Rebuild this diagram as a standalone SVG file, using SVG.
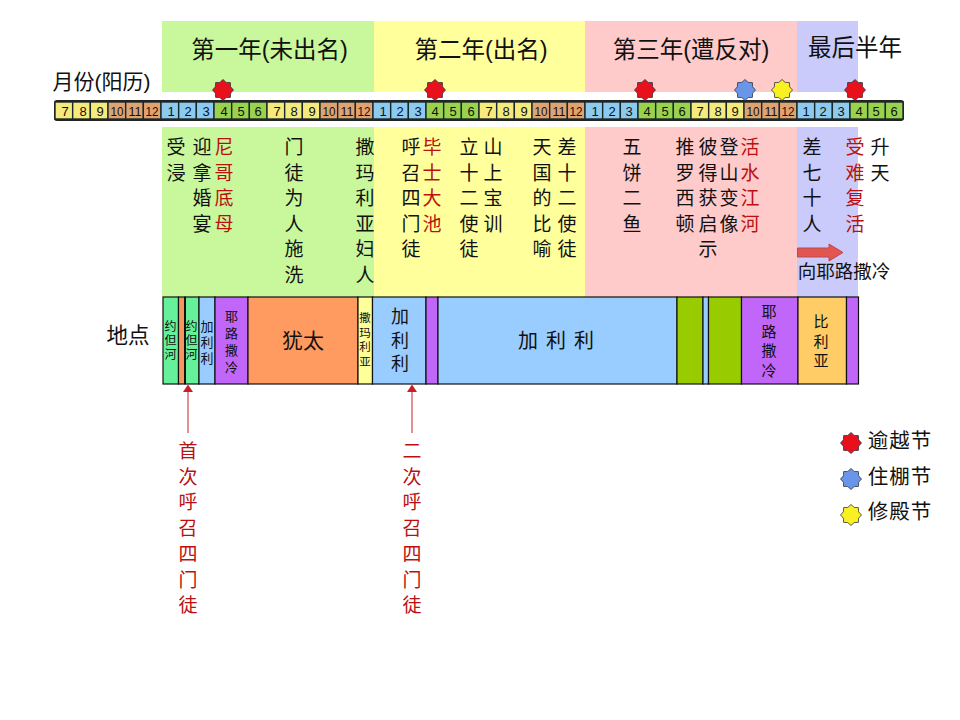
<svg xmlns="http://www.w3.org/2000/svg" width="960" height="720" viewBox="0 0 960 720">
<style>
text{font-family:"Liberation Sans","Noto Sans CJK SC",sans-serif;fill:#111;text-anchor:middle}
.t{font-size:23.5px}
.c{font-size:19px}
.r{fill:#bb1010}
.m{font-size:13px}
.loc{stroke:#111;stroke-width:1.2}
.cell{stroke:#1a2a2a;stroke-width:1.4}
.b{fill:#8ccaf0}.g{fill:#9ad24e}.y{fill:#f7ea7c}.o{fill:#e0a26e}
.star{stroke:#334;stroke-width:.8}
</style>
<defs>
<polygon id="s" points="0,-10.5 3.2,-7.6 7.4,-7.4 7.6,-3.2 10.5,0 7.6,3.2 7.4,7.4 3.2,7.6 0,10.5 -3.2,7.6 -7.4,7.4 -7.6,3.2 -10.5,0 -7.6,-3.2 -7.4,-7.4 -3.2,-7.6"/>
</defs>
<rect width="960" height="720" fill="#fff"/>
<g id="year-bands">
<rect x="162" y="21" width="212" height="71" fill="#c8f79c"/><rect x="374" y="21" width="211" height="71" fill="#ffff9c"/><rect x="585" y="21" width="212" height="71" fill="#ffcaca"/><rect x="797" y="21" width="61" height="71" fill="#cacbfb"/>
<rect x="162" y="127" width="212" height="170" fill="#c8f79c"/><rect x="374" y="127" width="211" height="170" fill="#ffff9c"/><rect x="585" y="127" width="212" height="170" fill="#ffcaca"/><rect x="797" y="127" width="61" height="170" fill="#cacbfb"/>
</g>
<g id="year-titles">
<text class="t" x="269.500" y="58">第一年(未出名)</text>
<text class="t" x="481" y="58">第二年(出名)</text>
<text class="t" x="691" y="58">第三年(遭反对)</text>
<text class="t" x="855" y="56">最后半年</text>
<text x="101.500" y="89" font-size="21">月份(阳历)</text>
</g>
<g id="timeline">
<rect x="55" y="101" width="848" height="19" rx="2" fill="#333" stroke="#222" stroke-width="2"/>
<rect class="cell y" x="55" y="102" width="17.67" height="17"/><rect class="cell y" x="72.67" y="102" width="17.67" height="17"/><rect class="cell y" x="90.33" y="102" width="17.67" height="17"/><rect class="cell o" x="108" y="102" width="17.67" height="17"/><rect class="cell o" x="125.67" y="102" width="17.67" height="17"/><rect class="cell o" x="143.33" y="102" width="17.67" height="17"/>
<rect class="cell b" x="161" y="102" width="17.67" height="17"/><rect class="cell b" x="178.67" y="102" width="17.67" height="17"/><rect class="cell b" x="196.33" y="102" width="17.67" height="17"/><rect class="cell g" x="214" y="102" width="17.67" height="17"/><rect class="cell g" x="231.67" y="102" width="17.67" height="17"/><rect class="cell g" x="249.33" y="102" width="17.67" height="17"/><rect class="cell y" x="267" y="102" width="17.67" height="17"/><rect class="cell y" x="284.67" y="102" width="17.67" height="17"/><rect class="cell y" x="302.33" y="102" width="17.67" height="17"/><rect class="cell o" x="320" y="102" width="17.67" height="17"/><rect class="cell o" x="337.67" y="102" width="17.67" height="17"/><rect class="cell o" x="355.33" y="102" width="17.67" height="17"/>
<rect class="cell b" x="373" y="102" width="17.67" height="17"/><rect class="cell b" x="390.67" y="102" width="17.67" height="17"/><rect class="cell b" x="408.33" y="102" width="17.67" height="17"/><rect class="cell g" x="426" y="102" width="17.67" height="17"/><rect class="cell g" x="443.67" y="102" width="17.67" height="17"/><rect class="cell g" x="461.33" y="102" width="17.67" height="17"/><rect class="cell y" x="479" y="102" width="17.67" height="17"/><rect class="cell y" x="496.67" y="102" width="17.67" height="17"/><rect class="cell y" x="514.33" y="102" width="17.67" height="17"/><rect class="cell o" x="532" y="102" width="17.67" height="17"/><rect class="cell o" x="549.67" y="102" width="17.67" height="17"/><rect class="cell o" x="567.33" y="102" width="17.67" height="17"/>
<rect class="cell b" x="585" y="102" width="17.67" height="17"/><rect class="cell b" x="602.67" y="102" width="17.67" height="17"/><rect class="cell b" x="620.33" y="102" width="17.67" height="17"/><rect class="cell g" x="638" y="102" width="17.67" height="17"/><rect class="cell g" x="655.67" y="102" width="17.67" height="17"/><rect class="cell g" x="673.33" y="102" width="17.67" height="17"/><rect class="cell y" x="691" y="102" width="17.67" height="17"/><rect class="cell y" x="708.67" y="102" width="17.67" height="17"/><rect class="cell y" x="726.33" y="102" width="17.67" height="17"/><rect class="cell o" x="744" y="102" width="17.67" height="17"/><rect class="cell o" x="761.67" y="102" width="17.67" height="17"/><rect class="cell o" x="779.33" y="102" width="17.67" height="17"/>
<rect class="cell b" x="797" y="102" width="17.67" height="17"/><rect class="cell b" x="814.67" y="102" width="17.67" height="17"/><rect class="cell b" x="832.33" y="102" width="17.67" height="17"/><rect class="cell g" x="850" y="102" width="17.67" height="17"/><rect class="cell g" x="867.67" y="102" width="17.67" height="17"/><rect class="cell g" x="885.33" y="102" width="17.67" height="17"/>
<g class="m">
<text x="65" y="115.500">7</text><text x="83" y="115.500">8</text><text x="100" y="115.500">9</text><text x="117" y="115.500" textLength="13" lengthAdjust="spacingAndGlyphs">10</text><text x="135" y="115.500" textLength="13" lengthAdjust="spacingAndGlyphs">11</text><text x="152" y="115.500" textLength="13" lengthAdjust="spacingAndGlyphs">12</text>
<text x="171" y="115.500">1</text><text x="188" y="115.500">2</text><text x="206" y="115.500">3</text><text x="224" y="115.500">4</text><text x="241" y="115.500">5</text><text x="258" y="115.500">6</text><text x="277" y="115.500">7</text><text x="294" y="115.500">8</text><text x="312" y="115.500">9</text><text x="329" y="115.500" textLength="13" lengthAdjust="spacingAndGlyphs">10</text><text x="347" y="115.500" textLength="13" lengthAdjust="spacingAndGlyphs">11</text><text x="364" y="115.500" textLength="13" lengthAdjust="spacingAndGlyphs">12</text>
<text x="383" y="115.500">1</text><text x="400" y="115.500">2</text><text x="418" y="115.500">3</text><text x="435" y="115.500">4</text><text x="453" y="115.500">5</text><text x="471" y="115.500">6</text><text x="489" y="115.500">7</text><text x="506" y="115.500">8</text><text x="524" y="115.500">9</text><text x="541" y="115.500" textLength="13" lengthAdjust="spacingAndGlyphs">10</text><text x="559" y="115.500" textLength="13" lengthAdjust="spacingAndGlyphs">11</text><text x="576" y="115.500" textLength="13" lengthAdjust="spacingAndGlyphs">12</text>
<text x="595" y="115.500">1</text><text x="612" y="115.500">2</text><text x="629" y="115.500">3</text><text x="647" y="115.500">4</text><text x="665" y="115.500">5</text><text x="682" y="115.500">6</text><text x="700" y="115.500">7</text><text x="718" y="115.500">8</text><text x="735" y="115.500">9</text><text x="753" y="115.500" textLength="13" lengthAdjust="spacingAndGlyphs">10</text><text x="771" y="115.500" textLength="13" lengthAdjust="spacingAndGlyphs">11</text><text x="788" y="115.500" textLength="13" lengthAdjust="spacingAndGlyphs">12</text>
<text x="806" y="115.500">1</text><text x="823" y="115.500">2</text><text x="841" y="115.500">3</text><text x="859" y="115.500">4</text><text x="876" y="115.500">5</text><text x="894" y="115.500">6</text>
</g>
</g>
<g id="feast-markers" class="star">
<use href="#s" x="223" y="90" fill="#e8101a"/><use href="#s" x="435" y="90" fill="#e8101a"/><use href="#s" x="645" y="90" fill="#e8101a"/><use href="#s" x="745" y="90" fill="#6a96ea"/><use href="#s" x="782" y="90" fill="#f8f020"/><use href="#s" x="855" y="90" fill="#e8101a"/>
</g>
<g id="events">
<text class="c"><tspan x="176" y="154">受</tspan><tspan x="176" dy="25.5">浸</tspan></text>
<text class="c"><tspan x="202" y="154">迎</tspan><tspan x="202" dy="25.5">拿</tspan><tspan x="202" dy="25.5">婚</tspan><tspan x="202" dy="25.5">宴</tspan></text>
<text class="c r"><tspan x="224" y="154">尼</tspan><tspan x="224" dy="25.5">哥</tspan><tspan x="224" dy="25.5">底</tspan><tspan x="224" dy="25.5">母</tspan></text>
<text class="c"><tspan x="294" y="154">门</tspan><tspan x="294" dy="25.5">徒</tspan><tspan x="294" dy="25.5">为</tspan><tspan x="294" dy="25.5">人</tspan><tspan x="294" dy="25.5">施</tspan><tspan x="294" dy="25.5">洗</tspan></text>
<text class="c"><tspan x="365" y="154">撒</tspan><tspan x="365" dy="25.5">玛</tspan><tspan x="365" dy="25.5">利</tspan><tspan x="365" dy="25.5">亚</tspan><tspan x="365" dy="25.5">妇</tspan><tspan x="365" dy="25.5">人</tspan></text>
<text class="c"><tspan x="411" y="154">呼</tspan><tspan x="411" dy="25.5">召</tspan><tspan x="411" dy="25.5">四</tspan><tspan x="411" dy="25.5">门</tspan><tspan x="411" dy="25.5">徒</tspan></text>
<text class="c r"><tspan x="432" y="154">毕</tspan><tspan x="432" dy="25.5">士</tspan><tspan x="432" dy="25.5">大</tspan><tspan x="432" dy="25.5">池</tspan></text>
<text class="c"><tspan x="469" y="154">立</tspan><tspan x="469" dy="25.5">十</tspan><tspan x="469" dy="25.5">二</tspan><tspan x="469" dy="25.5">使</tspan><tspan x="469" dy="25.5">徒</tspan></text>
<text class="c"><tspan x="493" y="154">山</tspan><tspan x="493" dy="25.5">上</tspan><tspan x="493" dy="25.5">宝</tspan><tspan x="493" dy="25.5">训</tspan></text>
<text class="c"><tspan x="542" y="154">天</tspan><tspan x="542" dy="25.5">国</tspan><tspan x="542" dy="25.5">的</tspan><tspan x="542" dy="25.5">比</tspan><tspan x="542" dy="25.5">喻</tspan></text>
<text class="c"><tspan x="567" y="154">差</tspan><tspan x="567" dy="25.5">十</tspan><tspan x="567" dy="25.5">二</tspan><tspan x="567" dy="25.5">使</tspan><tspan x="567" dy="25.5">徒</tspan></text>
<text class="c"><tspan x="632" y="154">五</tspan><tspan x="632" dy="25.5">饼</tspan><tspan x="632" dy="25.5">二</tspan><tspan x="632" dy="25.5">鱼</tspan></text>
<text class="c"><tspan x="685" y="154">推</tspan><tspan x="685" dy="25.5">罗</tspan><tspan x="685" dy="25.5">西</tspan><tspan x="685" dy="25.5">顿</tspan></text>
<text class="c"><tspan x="708" y="154">彼</tspan><tspan x="708" dy="25.5">得</tspan><tspan x="708" dy="25.5">获</tspan><tspan x="708" dy="25.5">启</tspan><tspan x="708" dy="25.5">示</tspan></text>
<text class="c"><tspan x="729" y="154">登</tspan><tspan x="729" dy="25.5">山</tspan><tspan x="729" dy="25.5">变</tspan><tspan x="729" dy="25.5">像</tspan></text>
<text class="c r"><tspan x="750" y="154">活</tspan><tspan x="750" dy="25.5">水</tspan><tspan x="750" dy="25.5">江</tspan><tspan x="750" dy="25.5">河</tspan></text>
<text class="c"><tspan x="812" y="154">差</tspan><tspan x="812" dy="25.5">七</tspan><tspan x="812" dy="25.5">十</tspan><tspan x="812" dy="25.5">人</tspan></text>
<text class="c r"><tspan x="855" y="154">受</tspan><tspan x="855" dy="25.5">难</tspan><tspan x="855" dy="25.5">复</tspan><tspan x="855" dy="25.5">活</tspan></text>
<text class="c"><tspan x="880" y="154">升</tspan><tspan x="880" dy="25.5">天</tspan></text>
</g>
<g id="to-jerusalem">
<polygon points="797.500,248 829,248 829,244 843,252.500 829,261 829,257 797.500,257" fill="#e25550" stroke="#b84a50" stroke-width="1"/>
<text x="844" y="278" font-size="18.500">向耶路撒冷</text>
</g>
<text x="128" y="343" font-size="21.500" id="location-label">地点</text>
<g id="locations">
<g id="loc1"><rect class="loc" x="163" y="297" width="15.500" height="87" fill="#66f09a"/><text font-size="12" fill="#264"><tspan x="170.500" y="331">约</tspan><tspan x="170.500" dy="14">但</tspan><tspan x="170.500" dy="14">河</tspan></text></g>
<rect id="loc2" class="loc" x="178.500" y="297" width="6.500" height="87" fill="#f79760"/>
<g id="loc3"><rect class="loc" x="185" y="297" width="14" height="87" fill="#66f09a"/><line x1="185" y1="297" x2="185" y2="384" stroke="#111" stroke-width="2"/><text font-size="12"><tspan x="191.500" y="331">约</tspan><tspan x="191.500" dy="14">但</tspan><tspan x="191.500" dy="14">河</tspan></text></g>
<g id="loc4"><rect class="loc" x="199" y="297" width="16" height="87" fill="#99ccff"/><text font-size="13"><tspan x="207" y="331">加</tspan><tspan x="207" dy="16">利</tspan><tspan x="207" dy="16">利</tspan></text></g>
<g id="loc5"><rect class="loc" x="215" y="297" width="33" height="87" fill="#c066f8"/><text font-size="13" fill="#2a1a50"><tspan x="231.500" y="321">耶</tspan><tspan x="231.500" dy="17">路</tspan><tspan x="231.500" dy="17">撒</tspan><tspan x="231.500" dy="17">冷</tspan></text></g>
<g id="loc6"><rect class="loc" x="248" y="297" width="110" height="87" fill="#ff9a60"/><text x="303" y="348" font-size="21">犹太</text></g>
<g id="loc7"><rect class="loc" x="358" y="297" width="14.500" height="87" fill="#ffff99"/><text font-size="11.500"><tspan x="365" y="322">撒</tspan><tspan x="365" dy="14.500">玛</tspan><tspan x="365" dy="14.500">利</tspan><tspan x="365" dy="14.500">亚</tspan></text></g>
<g id="loc8"><rect class="loc" x="372.500" y="297" width="53.500" height="87" fill="#99ccff"/><text font-size="18"><tspan x="400" y="323">加</tspan><tspan x="400" dy="23.500">利</tspan><tspan x="400" dy="23.500">利</tspan></text></g>
<rect id="loc9" class="loc" x="426" y="297" width="12" height="87" fill="#c066f8"/>
<g id="loc10"><rect class="loc" x="438" y="297" width="239" height="87" fill="#99ccff"/><text x="560" y="348" font-size="20" letter-spacing="8">加利利</text></g>
<rect id="loc11" class="loc" x="677" y="297" width="26" height="87" fill="#99cc00"/>
<rect id="loc12" class="loc" x="703" y="297" width="5.500" height="87" fill="#99ccff"/>
<rect id="loc13" class="loc" x="708.500" y="297" width="33" height="87" fill="#99cc00"/>
<g id="loc14"><rect class="loc" x="741.500" y="297" width="56.500" height="87" fill="#c066f8"/><text font-size="15" fill="#2a1a50"><tspan x="769" y="317">耶</tspan><tspan x="769" dy="19.500">路</tspan><tspan x="769" dy="19.500">撒</tspan><tspan x="769" dy="19.500">冷</tspan></text></g>
<g id="loc15"><rect class="loc" x="798" y="297" width="48.500" height="87" fill="#ffcc66"/><text font-size="15"><tspan x="821" y="327">比</tspan><tspan x="821" dy="19.500">利</tspan><tspan x="821" dy="19.500">亚</tspan></text></g>
<rect id="loc16" class="loc" x="846.500" y="297" width="12" height="87" fill="#c066f8"/>
</g>
<g id="connectors" stroke="#c8202a" stroke-width="1" fill="#c8202a">
<line x1="188" y1="433" x2="188" y2="390"/><path d="M188,384.500 L193,392 L183,392 Z" stroke="none"/>
<line x1="412" y1="433" x2="412" y2="390"/><path d="M412,384.500 L417,392 L407,392 Z" stroke="none"/>
</g>
<g id="call-labels">
<text class="c r"><tspan x="188" y="458">首</tspan><tspan x="188" dy="25.7">次</tspan><tspan x="188" dy="25.7">呼</tspan><tspan x="188" dy="25.7">召</tspan><tspan x="188" dy="25.7">四</tspan><tspan x="188" dy="25.7">门</tspan><tspan x="188" dy="25.7">徒</tspan></text>
<text class="c r"><tspan x="412" y="458">二</tspan><tspan x="412" dy="25.7">次</tspan><tspan x="412" dy="25.7">呼</tspan><tspan x="412" dy="25.7">召</tspan><tspan x="412" dy="25.7">四</tspan><tspan x="412" dy="25.7">门</tspan><tspan x="412" dy="25.7">徒</tspan></text>
</g>
<g id="legend">
<use href="#s" class="star" x="851" y="443" fill="#e8101a"/><text x="900" y="448" font-size="20.500" letter-spacing="1">逾越节</text>
<use href="#s" class="star" x="851" y="479" fill="#6a96ea"/><text x="900" y="484" font-size="20.500" letter-spacing="1">住棚节</text>
<use href="#s" class="star" x="851" y="515" fill="#f8f020"/><text x="900" y="519" font-size="20.500" letter-spacing="1">修殿节</text>
</g>
</svg>
